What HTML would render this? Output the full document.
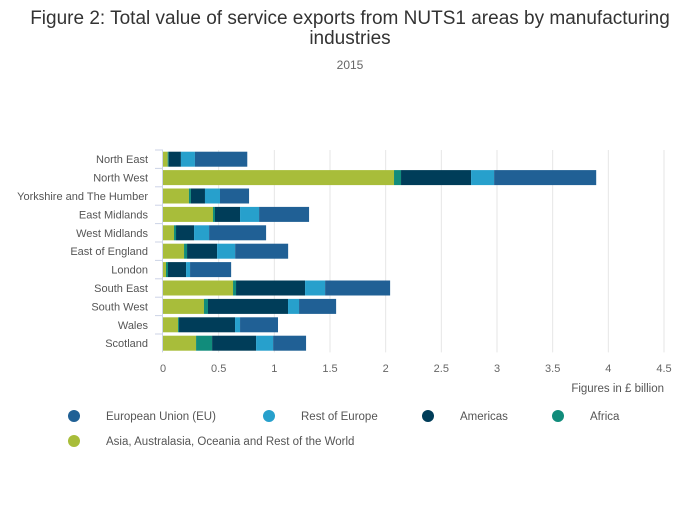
<!DOCTYPE html>
<html><head><meta charset="utf-8"><style>
body{margin:0;background:#fff;font-family:"Liberation Sans",sans-serif;}
svg text{font-family:"Liberation Sans",sans-serif;}
</style></head><body>
<svg id="chart" width="700" height="502">
<text x="350" y="24" text-anchor="middle" font-size="19" fill="#333">Figure 2: Total value of service exports from NUTS1 areas by manufacturing</text>
<text x="350" y="44" text-anchor="middle" font-size="19" fill="#333">industries</text>
<text x="350" y="69" text-anchor="middle" font-size="12" fill="#666">2015</text>
<g id="grid"></g><g id="bars"></g><g id="axes"></g><g id="legend"></g>
</svg>
<script>
const categories=["North East","North West","Yorkshire and The Humber","East Midlands","West Midlands","East of England","London","South East","South West","Wales","Scotland"];
const seriesNames=["Asia, Australasia, Oceania and Rest of the World","Africa","Americas","Rest of Europe","European Union (EU)"];
const asia=[0.042,2.075,0.233,0.449,0.099,0.189,0.027,0.629,0.368,0.135,0.297];
const africa=[0.009,0.063,0.018,0.018,0.018,0.027,0.018,0.027,0.036,0.009,0.144];
const americas=[0.11,0.629,0.126,0.225,0.162,0.27,0.162,0.62,0.719,0.503,0.395];
const restEurope=[0.126,0.207,0.135,0.171,0.135,0.162,0.036,0.18,0.099,0.045,0.153];
const eu=[0.47,0.917,0.261,0.449,0.512,0.476,0.369,0.584,0.333,0.341,0.296];
const xTicks=[0,0.5,1,1.5,2,2.5,3,3.5,4,4.5];
const xTickLabels=["0","0.5","1","1.5","2","2.5","3","3.5","4","4.5"];
const colors=["#a8bd3a","#118c7b","#003d59","#27a0cc","#206095"];
const NS="http://www.w3.org/2000/svg";
const x0=163,x1=664,yTop=150,step=18.4,bh=15;
const xs=v=>x0+(v/4.5)*(x1-x0);
const yc=i=>yTop+step*(i+0.5);
function mk(tag,attrs,parent,txt){const e=document.createElementNS(NS,tag);for(const k in attrs)e.setAttribute(k,attrs[k]);if(txt!==undefined)e.textContent=txt;parent.appendChild(e);return e;}
const grid=document.getElementById('grid'),bars=document.getElementById('bars'),axes=document.getElementById('axes'),legend=document.getElementById('legend');
xTicks.forEach((t,i)=>{
 if(t>0){const l=mk('line',{x1:xs(t),x2:xs(t),y1:yTop,y2:yTop+step*11,stroke:'#e6e6e6','stroke-width':1},grid);
 
 }
 const tx=mk('text',{x:xs(t),y:372,'text-anchor':'middle','font-size':11,fill:'#666'},axes,xTickLabels[i]);
 
 
});
const series=[asia,africa,americas,restEurope,eu];
categories.forEach((c,i)=>{
 let acc=0;
 series.forEach((s,k)=>{
  const r=mk('rect',{x:xs(acc),y:yc(i)-bh/2,width:Math.max(0,xs(acc+s[i])-xs(acc)),height:bh,fill:colors[k]},bars);
  
  
  acc+=s[i];
 });
 const t=mk('text',{x:148,y:yc(i)+4,'text-anchor':'end','font-size':11,fill:'#555'},axes,c);
 
 
 const tk=mk('line',{x1:155,x2:163,y1:yTop+step*i,y2:yTop+step*i,stroke:'#ccd3e6','stroke-width':1},axes);
 
 
});
const ax=mk('line',{x1:162.5,x2:162.5,y1:yTop,y2:yTop+step*11,stroke:'#ccd3e6','stroke-width':1},axes);


const at=mk('text',{x:664,y:392,'text-anchor':'end','font-size':11.5,fill:'#555'},axes,'Figures in £ billion');


const legItems=[[4,74,416],[3,269,416],[2,428,416],[1,558,416],[0,74,441]];
legItems.forEach(([k,x,y])=>{
 const c=mk('circle',{cx:x,cy:y,r:6,fill:colors[k]},legend);
 
 
 const t=mk('text',{x:x+32,y:y+4,'font-size':11.5,fill:'#555'},legend,seriesNames[k]);
 
 
});
</script>
</body></html>
